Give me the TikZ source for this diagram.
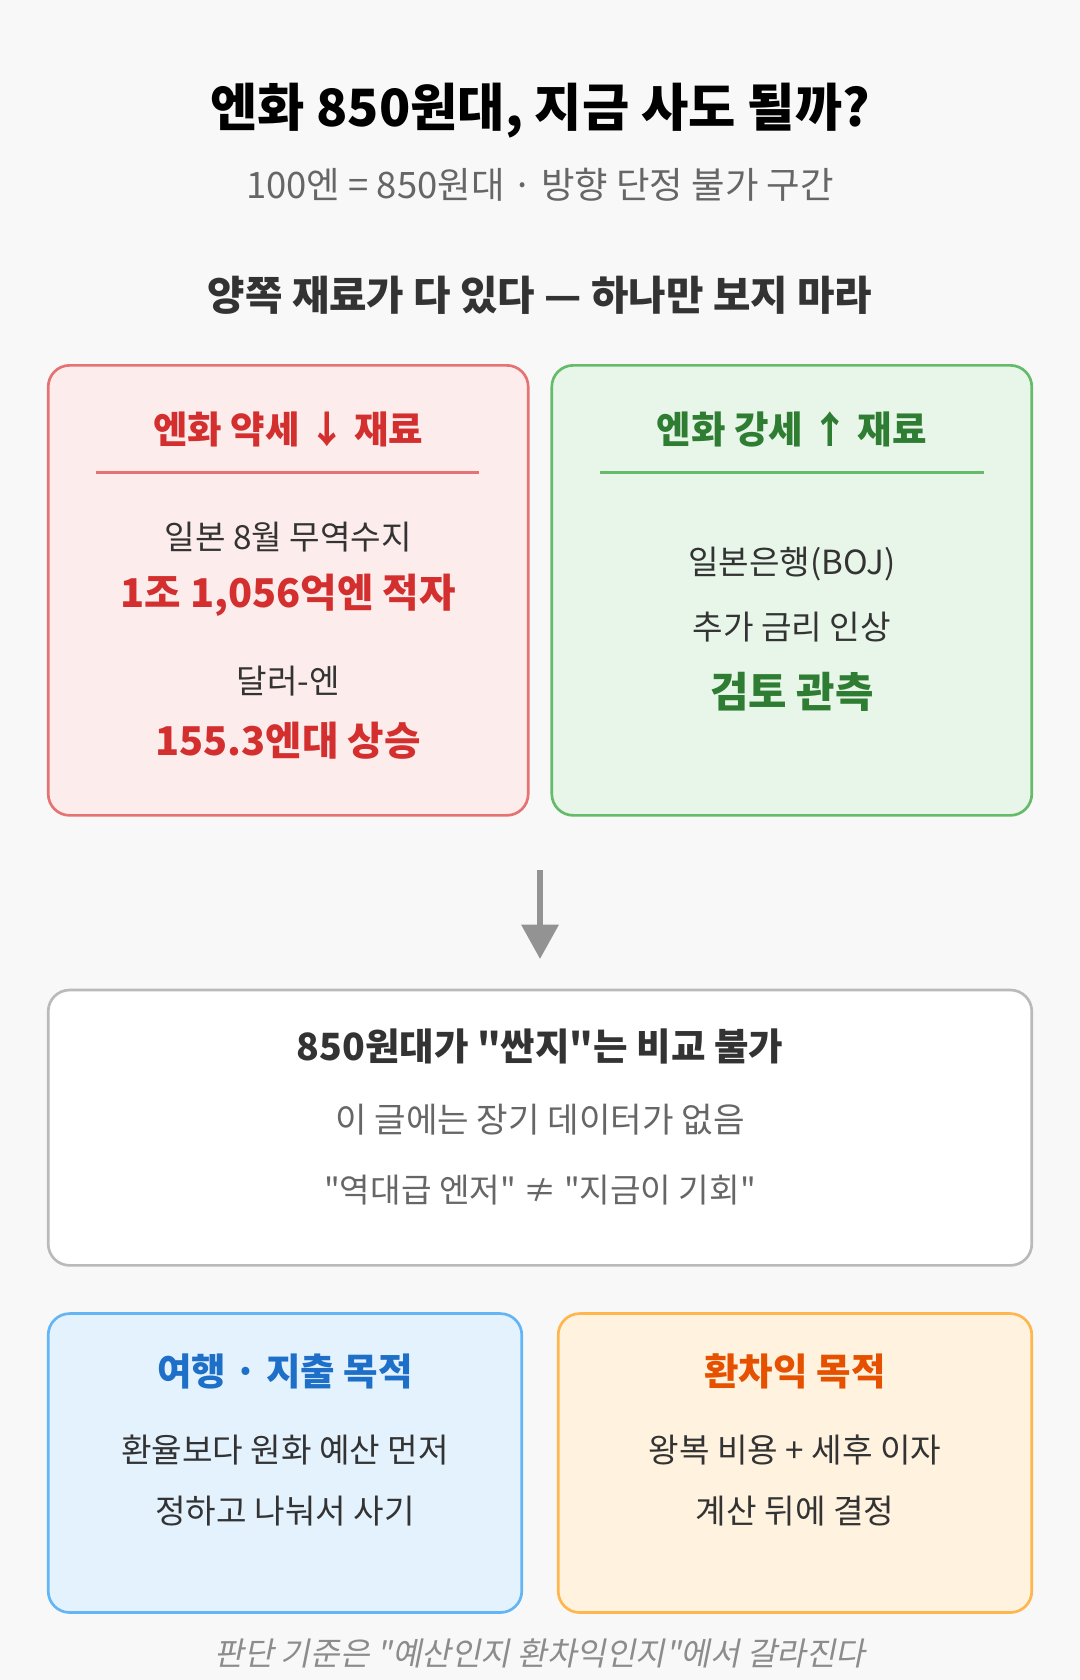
\documentclass[tikz,border=0pt]{standalone}
\usepackage{fontspec}
\defaultfontfeatures[\rmfamily]{}
\setmainfont{Noto Sans CJK KR}
\newfontfamily\slantfont[FakeSlant=0.2]{Noto Sans CJK KR}
\usetikzlibrary{arrows.meta}
\definecolor{bg}{HTML}{F8F8F8}
\definecolor{redc}{HTML}{D32F2F}\definecolor{redf}{HTML}{FDECEC}\definecolor{redb}{HTML}{E57373}
\definecolor{grc}{HTML}{2E7D32}\definecolor{grf}{HTML}{E8F5E9}\definecolor{grb}{HTML}{66BB6A}
\definecolor{blc}{HTML}{1E6FC8}\definecolor{blf}{HTML}{E3F2FD}\definecolor{blb}{HTML}{64B5F6}
\definecolor{orc}{HTML}{E65100}\definecolor{orf}{HTML}{FFF3E0}\definecolor{orb}{HTML}{FFB74D}
\definecolor{txt}{HTML}{333333}\definecolor{gtx}{HTML}{666666}
\newcommand{\fs}[1]{\fontsize{#1}{#1}\selectfont}
\newcommand{\qq}{"}
\begin{document}
\begin{tikzpicture}[x=1pt,y=-1pt,
  box/.style={rounded corners=20pt,line width=2.5pt},
  t/.style={anchor=center,inner sep=0pt,text=txt},
  body/.style={t,font=\fs{31}},
  hd/.style={t,font=\fs{35}\bfseries}]
\fill[bg] (0,0) rectangle (1008,1568);
\useasboundingbox (0,0) rectangle (1008,1568);
\node[t,font=\fs{48}\bfseries,text=black] (title) at (504,103) {엔화 850원대, 지금 사도 될까?};
\node[t,font=\fs{34},text=gtx] (sub) at (504,172) {100엔 = 850원대 · 방향 단정 불가 구간};
\node[hd,font=\fs{38}\bfseries] (q) at (504,276) {양쪽 재료가 다 있다 — 하나만 보지 마라};
% left
\draw[box,fill=redf,draw=redb] (45,341) rectangle (493,761);
\node[hd,text=redc] (lh) at (269,401) {엔화 약세 ↓ 재료};
\draw[redb,line width=2pt] (90,441) -- (447,441);
\node[body] (l1) at (269,501) {일본 8월 무역수지};
\node[hd,text=redc,font=\fs{37}\bfseries] (l2) at (269,556) {1조 1,056억엔 적자};
\node[body] (l3) at (269,636) {달러-엔};
\node[hd,text=redc,font=\fs{37}\bfseries] (l4) at (269,691) {155.3엔대 상승};
% right
\draw[box,fill=grf,draw=grb] (515,341) rectangle (963,761);
\node[hd,text=grc] (rh) at (739,401) {엔화 강세 ↑ 재료};
\draw[grb,line width=2pt] (560,441) -- (918,441);
\node[body] (r1) at (739,526) {일본은행(BOJ)};
\node[body] (r2) at (739,585) {추가 금리 인상};
\node[hd,text=grc,font=\fs{39}\bfseries] (r3) at (739,646) {검토 관측};
% arrow
\coordinate (a1) at (504,812); \coordinate (a2) at (504,895);
\draw[line width=5pt,color=gray!85,-{Triangle[width=34pt,length=32pt]}] (a1) -- (a2);
% middle
\draw[box,fill=white,draw=black!27] (45,924) rectangle (963,1181);
\node[hd] (m1) at (504,977) {850원대가 "싼지"는 비교 불가};
\node[body,text=gtx,font=\fs{32}] (m2) at (504,1045) {이 글에는 장기 데이터가 없음};
\node[body,text=gtx] (m3) at (504,1111) {"역대급 엔저" ≠ "지금이 기회"};
% bottom left
\draw[box,fill=blf,draw=blb] (45,1226) rectangle (487,1505);
\node[hd,text=blc] (bh) at (266,1280) {여행 · 지출 목적};
\node[body] (b1) at (266,1353) {환율보다 원화 예산 먼저};
\node[body] (b2) at (266,1410) {정하고 나눠서 사기};
% bottom right
\draw[box,fill=orf,draw=orb] (521,1226) rectangle (963,1505);
\node[hd,text=orc] (oh) at (742,1280) {환차익 목적};
\node[body] (o1) at (742,1353) {왕복 비용 + 세후 이자};
\node[body] (o2) at (742,1410) {계산 뒤에 결정};
% footer
\node[t,text=black!45,font=\fs{30}\slantfont] (f) at (504,1543) {판단 기준은 "예산인지 환차익인지"에서 갈라진다};
\end{tikzpicture}
\end{document}
